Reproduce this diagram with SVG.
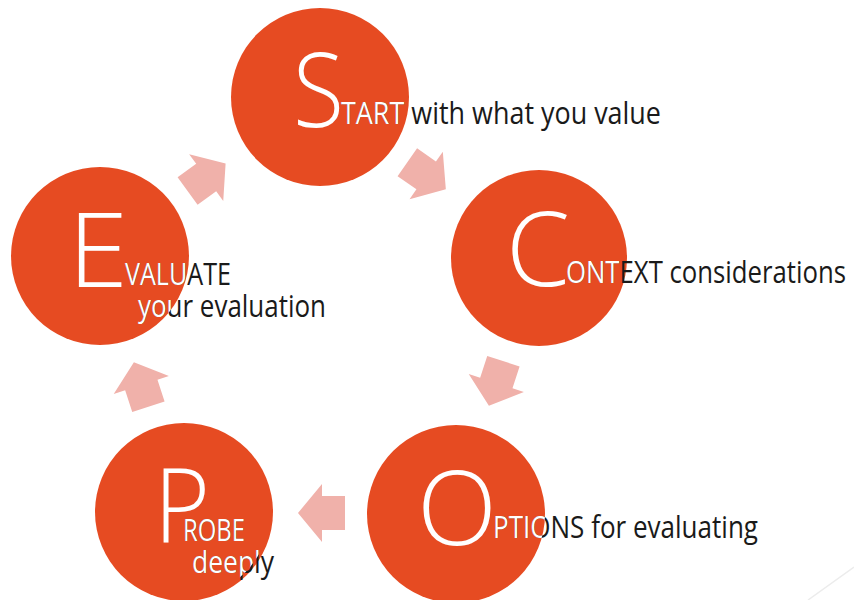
<svg xmlns="http://www.w3.org/2000/svg" width="854" height="600" viewBox="0 0 854 600">
<style>
.c{fill:#E64B22}
.a{fill:#F0B1AA}
.big{font-family:"Open Sans","DejaVu Sans",sans-serif;font-size:103px;font-weight:300}
.t{font-family:"Open Sans","DejaVu Sans",sans-serif;font-size:31px}
.w{fill:#ffffff}
.k{fill:#1a1a1a}
</style>
<defs>
<path id="arr" d="M-24,-17 L-1,-17 L-1,-29 L23,0 L-1,29 L-1,17 L-24,17 Z"/>
<clipPath id="cS"><circle cx="320" cy="97" r="89"/></clipPath>
<clipPath id="cC"><circle cx="539" cy="258" r="81"/></clipPath>
<clipPath id="cO"><circle cx="456" cy="514" r="89"/></clipPath>
<clipPath id="cP"><circle cx="184" cy="512" r="86"/></clipPath>
<clipPath id="cE"><circle cx="100" cy="256" r="89"/></clipPath>
</defs>
<rect width="854" height="600" fill="#ffffff"/>
<line x1="808" y1="600" x2="854" y2="567" stroke="#ececec" stroke-width="1.5"/>
<g id="connectors">
<use href="#arr" class="a" transform="translate(427,176) rotate(35)"/>
<use href="#arr" class="a" transform="translate(496,384) rotate(108)"/>
<use href="#arr" class="a" transform="translate(321,513) rotate(180)"/>
<use href="#arr" class="a" transform="translate(141,384) rotate(-108)"/>
<use href="#arr" class="a" transform="translate(207,177) rotate(-36)"/>
</g>
<g id="node-S">
<circle class="c" cx="320" cy="97" r="89"/>
<text class="big w" x="293" y="127" textLength="51" lengthAdjust="spacingAndGlyphs">S</text>
<text class="t k" x="341" y="124" textLength="320" lengthAdjust="spacingAndGlyphs">TART with what you value</text>
<g clip-path="url(#cS)"><text class="t w" x="341" y="124" textLength="320" lengthAdjust="spacingAndGlyphs">TART with what you value</text></g>
</g>
<g id="node-C">
<circle class="c" cx="539" cy="258" r="88"/>
<text class="big w" x="506" y="286" textLength="64" lengthAdjust="spacingAndGlyphs">C</text>
<text class="t k" x="566" y="283" textLength="280" lengthAdjust="spacingAndGlyphs">ONTEXT considerations</text>
<g clip-path="url(#cC)"><text class="t w" x="566" y="283" textLength="280" lengthAdjust="spacingAndGlyphs">ONTEXT considerations</text></g>
</g>
<g id="node-O">
<circle class="c" cx="456" cy="514" r="89"/>
<text class="big w" x="417" y="545" textLength="80" lengthAdjust="spacingAndGlyphs">O</text>
<text class="t k" x="493" y="538" textLength="265" lengthAdjust="spacingAndGlyphs">PTIONS for evaluating</text>
<g clip-path="url(#cO)"><text class="t w" x="493" y="538" textLength="265" lengthAdjust="spacingAndGlyphs">PTIONS for evaluating</text></g>
</g>
<g id="node-P">
<circle class="c" cx="184" cy="512" r="89"/>
<text class="big w" x="154" y="543" textLength="56" lengthAdjust="spacingAndGlyphs">P</text>
<text class="t k" x="183" y="541" textLength="62" lengthAdjust="spacingAndGlyphs">ROBE</text>
<text class="t k" x="192" y="573" textLength="82" lengthAdjust="spacingAndGlyphs">deeply</text>
<g clip-path="url(#cP)">
<text class="t w" x="183" y="541" textLength="62" lengthAdjust="spacingAndGlyphs">ROBE</text>
<text class="t w" x="192" y="573" textLength="82" lengthAdjust="spacingAndGlyphs">deeply</text>
</g>
</g>
<g id="node-E">
<circle class="c" cx="100" cy="256" r="89"/>
<text class="big w" x="68" y="287" textLength="60" lengthAdjust="spacingAndGlyphs">E</text>
<text class="t k" x="125" y="285" textLength="106" lengthAdjust="spacingAndGlyphs">VALUATE</text>
<text class="t k" x="138" y="317" textLength="188" lengthAdjust="spacingAndGlyphs">your evaluation</text>
<g clip-path="url(#cE)">
<text class="t w" x="125" y="285" textLength="106" lengthAdjust="spacingAndGlyphs">VALUATE</text>
<text class="t w" x="138" y="317" textLength="188" lengthAdjust="spacingAndGlyphs">your evaluation</text>
</g>
</g>
</svg>
